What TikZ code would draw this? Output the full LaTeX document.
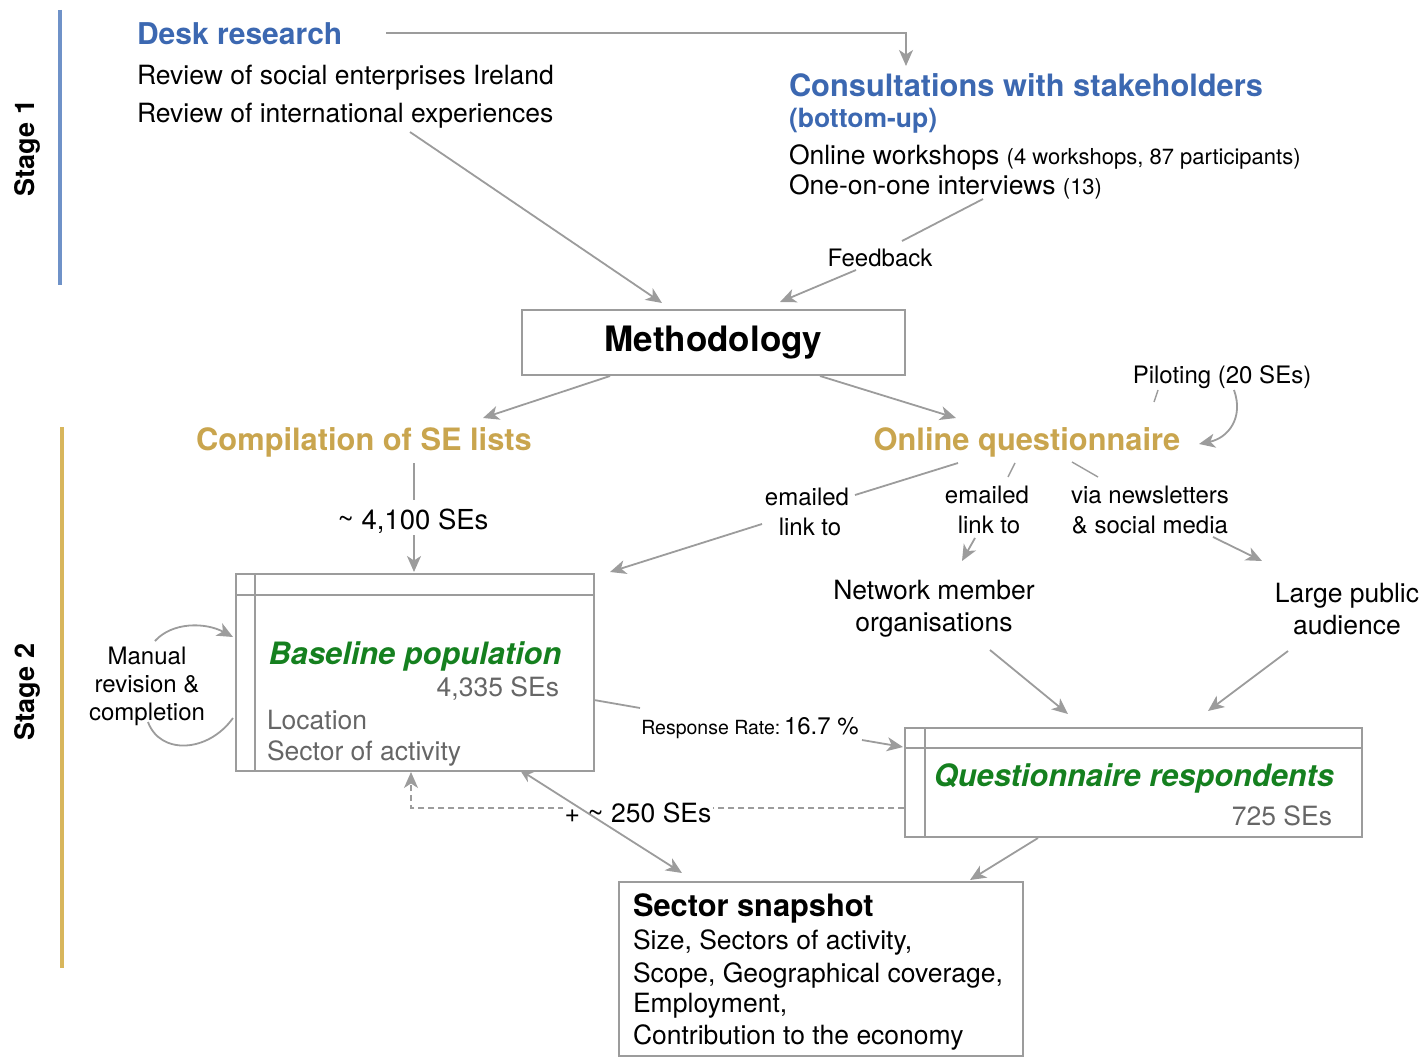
\documentclass[tikz,border=0pt]{standalone}
\usepackage{fontspec}
\setmainfont{TeX Gyre Heros}
\usetikzlibrary{arrows.meta,calc}
\definecolor{hblue}{HTML}{3C68B1}
\definecolor{hgold}{HTML}{C9A54E}
\definecolor{sgreen}{HTML}{15801F}
\definecolor{lgray}{HTML}{9C9C9C}
\definecolor{tgray}{HTML}{666666}
\definecolor{sone}{HTML}{6F92C8}
\definecolor{stwo}{HTML}{D8B65C}
\newcommand\fsz[2]{\fontsize{#1pt}{#2pt}\selectfont}
\begin{document}
\begin{tikzpicture}[x=1pt,y=-1pt,
  txt/.style={inner sep=0pt, outer sep=0pt, yshift=-3pt},
  body/.style={txt, font=\fsz{26.5}{31}},
  smalltxt/.style={txt, font=\fsz{24}{30}},
  head/.style={inner sep=0pt, outer sep=0pt, yshift=-1pt, font=\bfseries\fsz{30.8}{36}},
  conn/.style={draw=lgray, line width=1.8pt},
  arr/.style={conn, -{Stealth[length=16pt,width=14pt,inset=4.5pt]}},
  boxst/.style={draw=lgray, line width=1.8pt, inner sep=0pt, anchor=north west},
  stagelbl/.style={inner sep=0pt, rotate=90, font=\bfseries\fsz{27}{32}}
]
\useasboundingbox (0,0) rectangle (1425,1057);

% stage bars
\draw[sone, line width=4pt] (60,10) -- (60,285);
\draw[stwo, line width=4pt] (62,427) -- (62,968);
\node[stagelbl] (st1) at (27,148) {Stage 1};
\node[stagelbl] (st2) at (27,692) {Stage 2};

% stage 1 texts
\node[head, font=\bfseries\fsz{30}{34}, text=hblue, anchor=west] (desk) at (137,33) {Desk research};
\node[body, anchor=west] (rev1) at (137,75) {Review of social enterprises Ireland};
\node[body, anchor=west] (rev2) at (137,113) {Review of international experiences};
\node[head, text=hblue, anchor=west] (cons) at (789,84) {Consultations with stakeholders};
\node[txt, font=\bfseries\fsz{26.5}{31}, text=hblue, anchor=west] (bu) at (789,118) {(bottom-up)};
\node[body, anchor=west] (ow) at (789,154) {Online workshops {\fsz{22}{26}(4 workshops, 87 participants)}};
\node[body, anchor=west] (oi) at (789,184) {One-on-one interviews {\fsz{22}{26}(13)}};
\node[smalltxt] (fb) at (880,255) {Feedback};

% methodology
\node[boxst, minimum width=383pt, minimum height=65pt, font=\bfseries\fsz{35}{40}] (meth) at (521,309) {Methodology};

\coordinate (dk1) at (386,33);
\coordinate (dk2) at (906,66);
\draw[arr] (dk1) -| (dk2);
\coordinate (r2a) at (410,132);
\coordinate (r2b) at (662,303);
\draw[arr] (r2a) -- (r2b);
\coordinate (fa) at (983,199);
\coordinate (fb1) at (902,241);
\coordinate (fb2) at (856,270);
\coordinate (fm) at (780,302);
\draw[conn] (fa) -- (fb1);
\draw[arr] (fb2) -- (fm);

% stage 2 headings
\node[head, text=hgold] (comp) at (364,441) {Compilation of SE lists};
\node[head, text=hgold] (oq) at (1027,441) {Online questionnaire};
\node[smalltxt] (pil) at (1222,374) {Piloting (20 SEs)};

\coordinate (ma) at (610,376);
\coordinate (mb) at (483,418);
\coordinate (mc) at (820,376);
\coordinate (md) at (956,418);
\draw[arr] (ma) -- (mb);
\draw[arr] (mc) -- (md);

\coordinate (pt1) at (1158,390);
\coordinate (pt2) at (1154,402);
\draw[conn, line width=1.4pt] (pt1) -- (pt2);
\coordinate (pc1) at (1234,390);
\coordinate (pc2) at (1199,444);
\draw[arr] (pc1) .. controls (1244,418) and (1228,438) .. (pc2);

% 4,100
\node[txt, font=\fsz{27.5}{32}] (n41) at (413,518) {\raisebox{1pt}{\fsz{28}{30}\char`\~}\ 4,100 SEs};
\coordinate (ca) at (414,463);
\coordinate (cb) at (414,500);
\coordinate (cc) at (414,535);
\coordinate (cd) at (414,572);
\draw[conn] (ca) -- (cb);
\draw[arr] (cc) -- (cd);

% baseline box
\node[boxst, minimum width=358pt, minimum height=197pt] (base) at (235,573) {};
\draw[conn] ([yshift=-22pt]base.north west) -- ([yshift=-22pt]base.north east);
\draw[conn] ([xshift=20pt]base.north west) -- ([xshift=20pt]base.south west);
\node[txt, font=\bfseries\itshape\fsz{30.8}{36}, text=sgreen] (bp) at (415,653) {Baseline population};
\node[body, text=tgray, anchor=east] (b435) at (559,686) {4,335 SEs};
\node[body, text=tgray, anchor=west] (loc) at (267,717) {Location};
\node[body, text=tgray, anchor=west] (sec) at (267,750) {Sector of activity};

% manual revision
\node[txt, font=\fsz{24}{28}, align=center] (man) at (147,683) {Manual\\revision \&\\completion};
\coordinate (mt1) at (155,641);
\coordinate (mt2) at (233,637);
\draw[arr] (mt1) .. controls (172,622) and (205,622) .. (mt2);
\coordinate (mb1) at (148,722);
\coordinate (mb2) at (233,718);
\draw[conn] (mb1) .. controls (160,755) and (208,753) .. (mb2);

% emailed links
\node[txt, font=\fsz{24}{30}, align=center] (em1) at (807,509) {emailed\\\hspace*{6pt}link to};
\node[txt, font=\fsz{24}{30}, align=center] (em2) at (987,507) {emailed\\\hspace*{4pt}link to};
\node[txt, font=\fsz{24}{30}, align=center] (vn) at (1150,507) {via newsletters\\\& social media};
\coordinate (e1a) at (958,463); \coordinate (e1b) at (855,495);
\coordinate (e1c) at (762,524); \coordinate (e1d) at (610,572);
\draw[conn] (e1a) -- (e1b);
\draw[arr] (e1c) -- (e1d);
\coordinate (e2a) at (1015,463); \coordinate (e2b) at (1008,477);
\coordinate (e2c) at (975,538); \coordinate (e2d) at (962,561);
\draw[conn, line width=1.4pt] (e2a) -- (e2b);
\draw[arr] (e2c) -- (e2d);
\coordinate (e3a) at (1072,462); \coordinate (e3b) at (1098,477);
\coordinate (e3c) at (1213,537); \coordinate (e3d) at (1262,561);
\draw[conn, line width=1.4pt] (e3a) -- (e3b);
\draw[arr] (e3c) -- (e3d);

\node[txt, font=\fsz{26.5}{32}, align=center] (net) at (934,606) {Network member\\organisations};
\node[txt, font=\fsz{26.5}{32}, align=center] (lpa) at (1347,606) {Large public\\audience};
\coordinate (na) at (990,650); \coordinate (nb) at (1068,714);
\coordinate (la) at (1288,651); \coordinate (lb) at (1208,711);
\draw[arr] (na) -- (nb);
\draw[arr] (la) -- (lb);

% questionnaire respondents box
\node[boxst, minimum width=457pt, minimum height=109pt] (qr) at (904,727) {};
\draw[conn] ([yshift=-21pt]qr.north west) -- ([yshift=-21pt]qr.north east);
\draw[conn] ([xshift=21pt]qr.north west) -- ([xshift=21pt]qr.south west);
\node[txt, font=\bfseries\itshape\fsz{30.8}{36}, text=sgreen] (qrt) at (1134,775) {Questionnaire respondents};
\node[body, text=tgray, anchor=east] (q725) at (1332,813) {725 SEs};

% response rate
\node[txt, fill=white, inner sep=2pt] (rr) at (750,725) {{\fsz{19.5}{24}Response Rate:} {\fsz{24}{28}16.7 \%}};
\coordinate (ra) at (594,700); \coordinate (rb) at (640,708);
\coordinate (rc) at (862,740); \coordinate (rd) at (903,747);
\draw[conn] (ra) -- (rb);
\draw[arr] (rc) -- (rd);

% dashed +250
\coordinate (da) at (904,808);
\coordinate (db) at (411,772);
\draw[conn, line width=1.4pt, dash pattern=on 6pt off 4pt, -{Stealth[length=16pt,width=14pt,inset=4.5pt]}] (da) -| (db);
\node[txt, fill=white, inner sep=2pt, font=\fsz{26.5}{31}] (p250) at (638,810) {+ {\fsz{28}{30}\char`\~}\ 250 SEs};

% double arrow baseline <-> snapshot
\coordinate (ba) at (520,770);
\coordinate (bb) at (682,873);
\draw[conn, {Stealth[length=13pt,width=12pt,inset=4pt]}-{Stealth[length=16pt,width=14pt,inset=4.5pt]}] (ba) -- (bb);
\coordinate (qa) at (1038,838);
\coordinate (qb) at (970,880);
\draw[arr] (qa) -- (qb);

% sector snapshot
\node[boxst, minimum width=404pt, minimum height=174pt] (snap) at (618,881) {};
\node[txt, font=\bfseries\fsz{30.8}{36}, anchor=west] (sst) at (633,905) {Sector snapshot};
\node[body, anchor=west] (s1) at (633,939) {Size, Sectors of activity,};
\node[body, anchor=west] (s2) at (633,972) {Scope, Geographical coverage,};
\node[body, anchor=west] (s3) at (633,1003) {Employment,};
\node[body, anchor=west] (s4) at (633,1034) {Contribution to the economy};
\end{tikzpicture}
\end{document}
